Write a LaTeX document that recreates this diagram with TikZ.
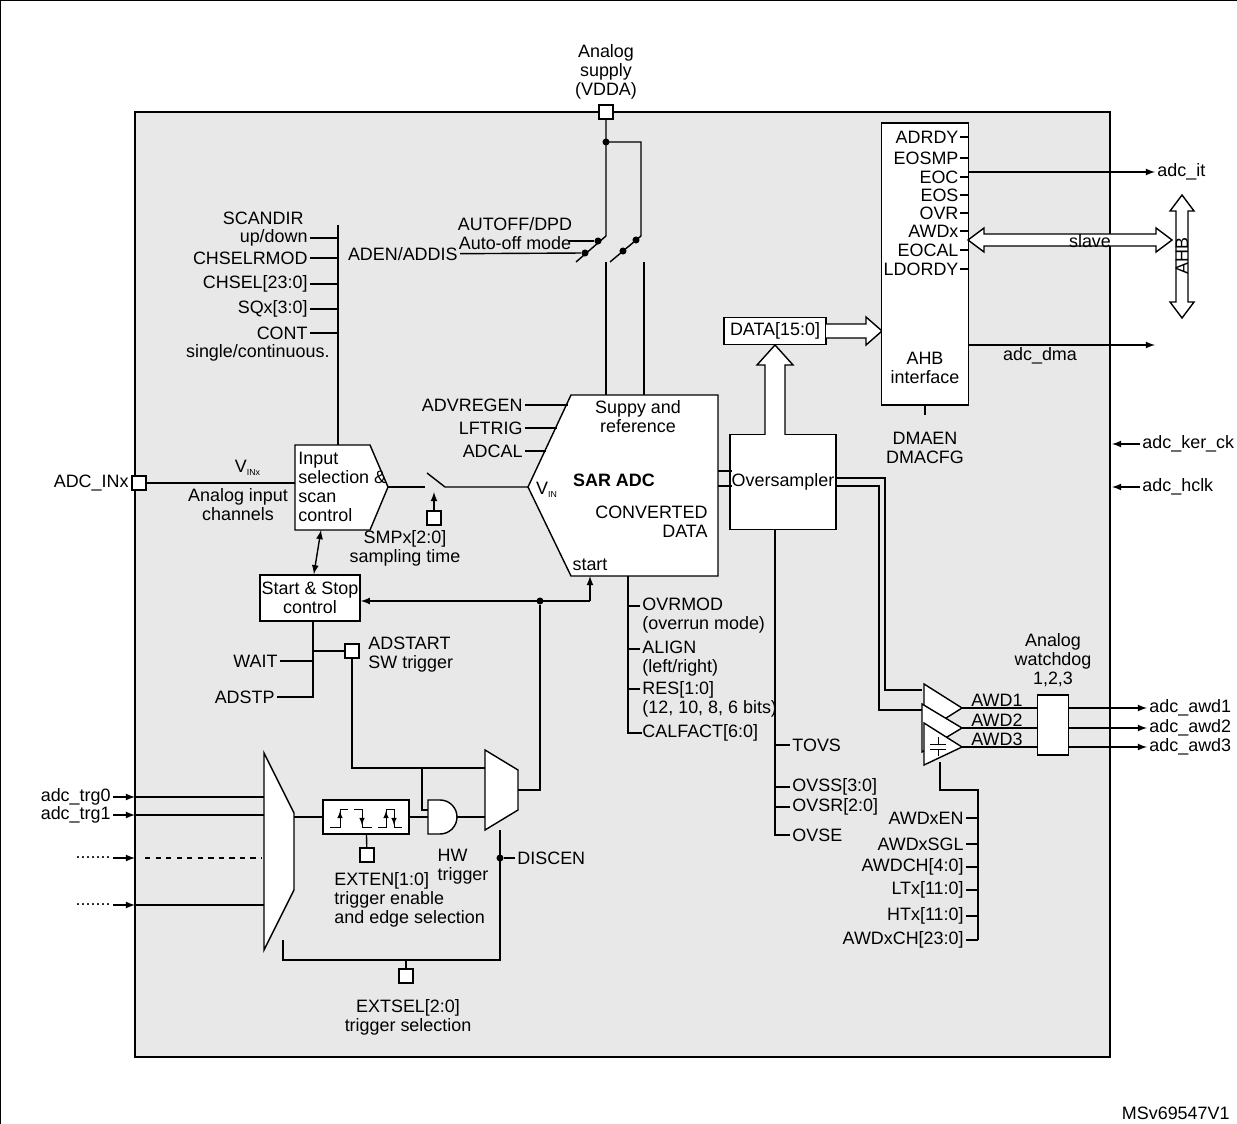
\documentclass[tikz,border=0pt]{standalone}
\usepackage{fontspec}
\setmainfont{Liberation Sans}
\usetikzlibrary{positioning,arrows}
\tikzset{%
  >=latex,
  sig/.style={font=\fontsize{10.2}{10.8}\selectfont,inner sep=1pt},
  blk/.style={draw,fill=white,thick},
  pin/.style={draw,fill=white,thick,minimum size=14*0.02cm,inner sep=0pt},
  dot/.style={circle,fill=black,inner sep=0pt,minimum size=4pt}
}
\begin{document}
\begin{tikzpicture}[x=0.02cm,y=-0.02cm,thick]
	%% frame
	\useasboundingbox (0,0) rectangle (1237,1124);
	\draw[thin] (0,0) rectangle (1237,1124);
	\draw[fill=gray!18] (135,112) rectangle (1110,1057);
	\node[sig,anchor=south east] (ver) at (1232,1122) {MSv69547V1};

	%% supply and switches
	\node[sig,align=center] (vddatxt) at (606,72) {Analog\\supply\\(VDDA)};
	\node[pin] (vdda) at (606,112) {};
	\draw (vdda) -- (606,236) -- (576,262);
	\draw (606,142) -- (641,142) -- (641,236) -- (610,262);
	\node[dot] at (606,142) {};
	\node[dot] (sw1a) at (598,241) {};
	\node[dot] (sw1b) at (585,253) {};
	\node[dot] (sw2a) at (636,240) {};
	\node[dot] at (623,251) {};
	\draw (606,262) -- (606,395);
	\draw (644,262) -- (644,395);
	\node[sig,align=center] (autoff) at (515,234) {AUTOFF/DPD\\Auto-off mode};
	\node[sig,anchor=east] (aden) at (460,254) {ADEN/ADDIS};
	\draw (568,241) -- (sw1a);
	\draw (aden) -- (sw1b);

	%% SAR ADC
	\draw[blk] (571,395) -- (718,395) -- (718,576) -- (571,576) -- (528,487) -- cycle;
	\coordinate (adc) at (620,487);
	\node[sig,align=center] (supref) at (638,417) {Suppy and\\reference};
	\node[sig,font=\fontsize{10.2}{10.8}\selectfont\bfseries] (sar) at (614,480) {SAR ADC};
	\node[sig] (vin) at (547,490) {V\textsubscript{\tiny IN}};
	\node[sig,align=right,anchor=east] (conv) at (710,522) {CONVERTED\\DATA};
	\node[sig] (start) at (590,565) {start};
	\foreach \lab/\y/\x in {ADVREGEN/405/568,LFTRIG/428/557,ADCAL/451/546}
	  \draw (\x,\y) -- (525,\y) node[sig,anchor=east] {\lab};

	%% input selection
	\foreach \lab/\y in {{up/down}/238,CHSELRMOD/258,CHSEL[23:0]/284,SQx[3:0]/309,CONT/333}
	  \draw (338,\y) -- (310,\y) node[sig,anchor=east] {\lab};
	\node[sig,anchor=east] (scandir) at (306,218) {SCANDIR};
	\node[sig,anchor=east] (single) at (332,353) {single/continuous.};
	\draw (338,225) -- (338,445);
	\draw[blk] (295,445) -- (370,445) -- (388,487) -- (370,530) -- (295,530) -- cycle;
	\node[sig,align=left,anchor=west] (insel) at (296,487) {Input\\selection \&\\scan\\control};
	\node[pin] (adcin) at (139,483) {};
	\node[sig,anchor=east] (adcintxt) at (131,483) {ADC\_INx};
	\draw (adcin) -- (295,483);
	\node[sig] (vinx) at (248,468) {V\textsubscript{\tiny INx}};
	\node[sig,align=center] (anin) at (238,505) {Analog input\\channels};
	\draw (388,487) -- (425,487);
	\draw (427,473) -- (445,487) -- (528,487);
	\node[pin] (smp) at (434,518) {};
	\draw[->] (smp) -- (434,492);
	\node[sig,align=center] (smptxt) at (405,548) {SMPx[2:0]\\sampling time};

	%% start and stop
	\node[blk,sig,minimum width=97*0.02cm,minimum height=46*0.02cm,align=center] (ss) at (310,598) {Start \& Stop\\control};
	\draw[<->] (321,530) -- (ss);
	\draw[->] (590,601) -- (ss.east |- 0,601);
	\draw[->] (590,601) -- (590,576);
	\node[dot] (j1) at (540,601) {};
	\draw (313,621) -- (313,697) -- (277,697) node[sig,anchor=east] {ADSTP};
	\draw (313,661) -- (280,661) node[sig,anchor=east] {WAIT};
	\node[pin] (adstart) at (352,651) {};
	\draw (313,651) -- (adstart);
	\node[sig,align=left,anchor=west] (adstxt) at (366,655) {ADSTART\\SW trigger};

	%% trigger path
	\draw[blk] (264,753) -- (294,813) -- (294,890) -- (264,950) -- cycle;
	\foreach \lab/\y in {adc\_trg0/797,adc\_trg1/815} {
	  \draw[->] (113,\y) node[sig,anchor=east] {\lab} -- (135,\y);
	  \draw (135,\y) -- (264,\y); }
	\foreach \y in {858,905}
	  \draw[->] (113,\y) node[sig,anchor=east] {.......} -- (135,\y);
	\draw[dashed] (145,858) -- (262,858);
	\draw (135,905) -- (264,905);
	\node[blk,minimum width=86*0.02cm,minimum height=34*0.02cm] (edge) at (366,817) {};
	\begin{scope}[thin]
	  \draw (330,827) -- (340,827) -- (340,809) -- (348,809);
	  \draw[->] (340,825) -- (340,811);
	  \draw (354,809) -- (362,809) -- (362,827) -- (372,827);
	  \draw[->] (362,811) -- (362,825);
	  \draw (378,827) -- (386,827) -- (386,809) -- (394,809) -- (394,827) -- (402,827);
	  \draw[->] (386,825) -- (386,811);
	  \draw[->] (394,811) -- (394,825);
	\end{scope}
	\draw (294,817) -- (edge);
	\node[pin] (exten) at (367,855) {};
	\draw (edge) -- (exten);
	\node[sig,align=left,anchor=north west] (extentxt) at (332,870) {EXTEN[1:0]\\trigger enable\\and edge selection};
	\draw[blk] (428,800) -- (440,800) arc (-90:90:17) -- (428,834) -- cycle;
	\node (and) at (441,817) {};
	\draw (409,817) -- (428,817);
	\node[sig,align=left] (hwtxt) at (463,867) {HW\\trigger};
	\draw[blk] (485,750) -- (518,770) -- (518,810) -- (485,830) -- cycle;
	\coordinate (mux) at (501,790);
	\draw (457,817) -- (485,817);
	\draw (adstart) -- (352,768) -- (485,768);
	\draw (422,768) -- (422,810) -- (428,810);
	\draw (518,790) -- (540,790) -- (j1);
	\draw (283,940) -- (283,960) -- (500,960) -- (500,830);
	\node[dot] (j2) at (500,858) {};
	\draw (j2) -- (515,858) node[sig,anchor=west] {DISCEN};
	\node[pin] (extsel) at (406,976) {};
	\draw (406,960) -- (extsel);
	\node[sig,align=center] (extseltxt) at (408,1017) {EXTSEL[2:0]\\trigger selection};

	%% ADC outputs
	\draw (628,576) -- (628,733) -- (642,733);
	\foreach \y in {606,649,689} \draw (628,\y) -- (640,\y);
	\node[sig,align=left,anchor=west] (ovrmod) at (640,616) {OVRMOD\\(overrun mode)};
	\node[sig,align=left,anchor=west] (align) at (640,659) {ALIGN\\(left/right)};
	\node[sig,align=left,anchor=west] (res) at (640,699) {RES[1:0]\\(12, 10, 8, 6 bits)};
	\node[sig,anchor=west] (calf) at (640,733) {CALFACT[6:0]};

	%% oversampler
	\node[blk,sig,minimum width=103*0.02cm,minimum height=95*0.02cm] (ovs) at (783,482) {Oversampler};
	\draw (718,471) -- (732,471);
	\draw (718,486) -- (732,486);
	\draw (775,530) -- (775,835) -- (790,835) node[sig,anchor=west] {OVSE};
	\foreach \lab/\y in {TOVS/745,OVSS[3:0]/787,OVSR[2:0]/807}
	  \draw (775,\y) -- (790,\y) node[sig,anchor=west] {\lab};
	\draw[fill=white] (765,435) -- (765,365) -- (757,365) -- (775,345) -- (793,365) -- (785,365) -- (785,435);
	\node[blk,sig,minimum width=102*0.02cm,minimum height=27*0.02cm] (data) at (775,331) {DATA[15:0]};
	\draw[fill=white] (826,324) -- (866,324) -- (866,317) -- (882,331) -- (866,345) -- (866,338) -- (826,338);

	%% AHB interface
	\node[blk,minimum width=87*0.02cm,minimum height=282*0.02cm] (ahb) at (925,264) {};
	\foreach \lab/\y in {ADRDY/137,EOSMP/158,EOC/177,EOS/195,OVR/213,AWDx/231,EOCAL/250,LDORDY/269}
	  \draw (968,\y) -- (960,\y) node[sig,anchor=east,inner sep=0.5pt] {\lab};
	\node[sig,align=center] (ahbtxt) at (925,368) {AHB\\interface};
	\draw (925,405) -- (925,415);
	\node[sig,align=center] (dmaen) at (925,448) {DMAEN\\DMACFG};
	\draw[->] (968,172) -- (1155,172) node[sig,anchor=west] {adc\_it};
	\draw[->] (968,345) -- (1155,345);
	\node[sig] (dma) at (1040,356) {adc\_dma};
	\draw[fill=white] (968,240) -- (984,228) -- (984,234) -- (1156,234) -- (1156,228) -- (1172,240) -- (1156,252) -- (1156,246) -- (984,246) -- (984,252) -- cycle;
	\node[sig] (slave) at (1090,241) {slave};
	\draw[fill=white] (1182,195) -- (1194,211) -- (1188,211) -- (1188,302) -- (1194,302) -- (1182,318) -- (1170,302) -- (1176,302) -- (1176,211) -- (1170,211) -- cycle;
	\node[sig,rotate=90] (ahbbus) at (1182,256) {AHB};
	\draw[->] (1140,444) node[sig,anchor=west] {adc\_ker\_ck} -- (1112,444);
	\draw[->] (1140,487) node[sig,anchor=west] {adc\_hclk} -- (1112,487);

	%% analog watchdog
	\draw (835,478) -- (885,478) -- (885,690) -- (922,690);
	\draw (835,486) -- (879,486) -- (879,710) -- (922,710);
	\draw[fill=white] (924,684) -- (962,708) -- (924,732) -- cycle;
	\draw[fill=white] (922,704) -- (962,728) -- (922,752) -- cycle;
	\draw[fill=white] (924,723) -- (962,747) -- (924,765) -- cycle;
	\draw[thin] (930,744) -- (946,744) (930,749) -- (946,749) (938,737) -- (938,744) (938,749) -- (938,756);
	\node[blk,minimum width=31*0.02cm,minimum height=60*0.02cm] (wdg) at (1053,725) {};
	\node[sig,align=center] (wdgtxt) at (1053,660) {Analog\\watchdog\\1,2,3};
	\foreach \n/\y in {1/708,2/728,3/747} {
	  \draw (962,\y) -- (1037,\y);
	  \node[sig] at (997,\y-8) {AWD\n};
	  \draw[->] (1068,\y) -- (1147,\y) node[sig,anchor=west] {adc\_awd\n}; }
	\draw (940,762) -- (940,790) -- (978,790) -- (978,940);
	\foreach \lab/\y in {AWDxEN/818,AWDxSGL/844,AWDCH[4:0]/867,LTx[11:0]/890,HTx[11:0]/916,AWDxCH[23:0]/940}
	  \draw (978,\y) -- (966,\y) node[sig,anchor=east] {\lab};
\end{tikzpicture}
\end{document}
